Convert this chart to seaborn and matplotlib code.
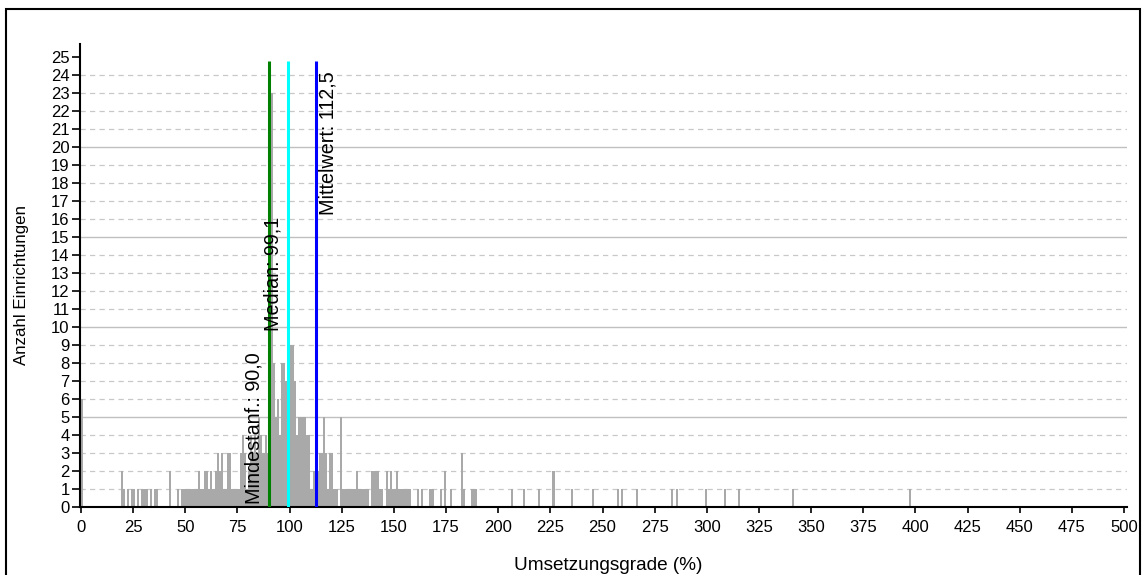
import matplotlib
matplotlib.use("Agg")
import matplotlib.pyplot as plt
import seaborn as sns
import pandas as pd
from matplotlib.patches import Rectangle

# ---- data ----
grad_values = [0, 19, 20, 22, 24, 25, 27, 29, 30, 31, 33, 35, 36, 42, 46, 48, 49, 50,
               51, 52, 53, 54, 55, 56, 57, 58, 59, 60, 61, 62, 63, 64, 65, 66, 67, 68,
               69, 70, 71, 72, 73, 74, 75, 76, 77, 78, 79, 80, 81, 82, 83, 84, 85, 86,
               87, 88, 89, 90, 91, 92, 93, 94, 95, 96, 97, 98, 99, 100, 101, 102, 103,
               104, 105, 106, 107, 108, 109, 110, 111, 112, 113, 114, 115, 116, 117,
               118, 119, 120, 121, 122, 124, 125, 126, 127, 128, 129, 130, 131, 132,
               133, 134, 135, 136, 137, 139, 140, 141, 142, 143, 144, 146, 147, 148,
               149, 150, 151, 152, 153, 154, 155, 156, 157, 161, 163, 167, 168, 172,
               174, 177, 182, 183, 187, 188, 189, 206, 212, 219, 226, 235, 245, 257,
               259, 266, 283, 285, 299, 308, 315, 341, 397]
anzahl = [6, 2, 1, 1, 1, 1, 1, 1, 1, 1, 1, 1, 1, 2, 1, 1, 1, 1,
          1, 1, 1, 1, 1, 2, 1, 1, 2, 2, 1, 2, 1, 2, 3, 2, 3, 1,
          1, 3, 3, 1, 1, 1, 1, 3, 4, 3, 1, 2, 4, 3, 4, 3, 5, 4,
          3, 4, 3, 4, 23, 8, 5, 6, 4, 8, 8, 7, 5, 9, 9, 7, 4,
          5, 5, 5, 5, 4, 4, 1, 2, 2, 2, 3, 3, 5, 3,
          1, 3, 3, 1, 1, 5, 1, 1, 1, 1, 1, 1, 1, 2,
          1, 1, 1, 1, 1, 2, 2, 2, 2, 1, 1, 2, 1, 2,
          1, 1, 2, 1, 1, 1, 1, 1, 1, 1, 1, 1, 1, 1,
          2, 1, 3, 1, 1, 1, 1, 1, 1, 1, 2, 1, 1, 1,
          1, 1, 1, 1, 1, 1, 1, 1, 1]

mindest = 90.0
median = 99.1
mittelwert = 112.5
stat_labels = ["Mindestanf.: 90,0", "Median: 99,1", "Mittelwert: 112,5"]
x_ticks = list(range(0, 501, 25))
y_ticks = list(range(0, 26))
x_title = "Umsetzungsgrade (%)"
y_title = "Anzahl Einrichtungen"

# ---- figure ----
sns.set_theme(style="white")
plt.rcParams['font.family'] = ['Liberation Sans', 'DejaVu Sans']

W, H = 1144, 575
fig = plt.figure(figsize=(W / 100, H / 100), dpi=100)
ax = fig.add_axes([80 / W, (H - 507) / H, (1127 - 80) / W, (507 - 44) / H])

df = pd.DataFrame({"grad": grad_values, "n": anzahl})
sns.histplot(data=df, x="grad", weights="n", binwidth=1, binrange=(0, 501),
             color="#a9a9a9", alpha=1, edgecolor="none", linewidth=0,
             ax=ax, zorder=2)

ax.set_xlim(-0.48, 501.4)
ax.set_ylim(0, 25.72)

# grid lines
for yv in y_ticks[1:-1]:
    if yv % 5 == 0:
        ax.axhline(yv, color="#c0c0c0", lw=1.0, zorder=0)
    else:
        ax.axhline(yv, color="#c8c8c8", lw=0.9, ls=(0, (4.2, 3.4)), zorder=0)

# statistic lines
line_cols = ["#008000", "#00ffff", "#0000ff"]
ax.vlines([mindest, median, mittelwert], 0, 24.75, colors=line_cols, lw=2.2, zorder=3)

fs_txt = 14.2
ax.text(mindest - 7.0, 0.15, stat_labels[0], rotation=90, ha="center", va="bottom",
        fontsize=fs_txt, color="black", zorder=4)
ax.text(median - 7.0, 16.1, stat_labels[1], rotation=90, ha="center", va="top",
        fontsize=fs_txt, color="black", zorder=4)
ax.text(mittelwert + 6.0, 24.2, stat_labels[2], rotation=90, ha="center", va="top",
        fontsize=fs_txt, color="black", zorder=4)

ax.set_xticks(x_ticks)
ax.set_yticks(y_ticks)
ax.tick_params(axis="y", direction="out", length=6, width=1.2, pad=1.5,
               labelsize=12, colors="black", left=True)
ax.tick_params(axis="x", direction="out", length=4.5, width=1.2, pad=5,
               labelsize=12, colors="black", bottom=True)

for s in ["top", "right"]:
    ax.spines[s].set_visible(False)
for s in ["left", "bottom"]:
    ax.spines[s].set_color("black")
    ax.spines[s].set_linewidth(1.5)

ax.set_xlabel(x_title, fontsize=13.7, color="black")
ax.set_ylabel(y_title, fontsize=12.2, color="black")
ax.xaxis.set_label_coords(0.504, -(557 - 507) / 463)
ax.yaxis.set_label_coords(-(80 - 29) / 1047, (507 - 285) / 463)

# outer frame
fig.patches.append(Rectangle((6 / W, -0.1), (1140 - 6) / W, 1.1 - 9 / H,
                             transform=fig.transFigure, fill=False,
                             edgecolor="black", lw=1.5, clip_on=False))

fig.savefig("out.png", dpi=100)
